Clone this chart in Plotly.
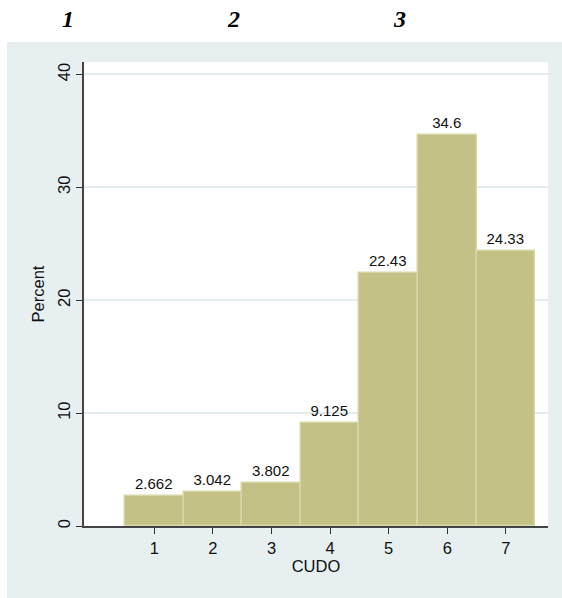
import plotly.graph_objects as go

categories = [1, 2, 3, 4, 5, 6, 7]
percents = [2.662, 3.042, 3.802, 9.125, 22.43, 34.6, 24.33]
bar_labels = ["2.662", "3.042", "3.802", "9.125", "22.43", "34.6", "24.33"]
y_ticks = [0, 10, 20, 30, 40]
panel_numbers = ["1", "2", "3"]

FONT = "Arial, Liberation Sans, Helvetica, sans-serif"
PANEL = "#e7eff0"

fig = go.Figure()
fig.add_trace(go.Bar(
    x=categories, y=percents, width=1,
    marker=dict(color="#c4c186", line=dict(color="#d8d6a6", width=1.5)),
    text=bar_labels, textposition="outside", cliponaxis=False,
    textfont=dict(family=FONT, size=15, color="#111"),
))

W, H = 562, 598
L, R, T, B = 84, 14, 62, 72
pw, ph = W - L - R, H - T - B

def px_x(p):
    return (p - L) / pw

def px_y(p):
    return (H - B - p) / ph

shapes = [
    dict(type="rect", xref="paper", yref="paper", layer="below",
         x0=px_x(-5), x1=px_x(W + 5), y0=px_y(42), y1=px_y(-5),
         fillcolor="white", line=dict(width=0)),
    dict(type="rect", xref="paper", yref="paper", layer="below",
         x0=px_x(-5), x1=px_x(7), y0=px_y(H + 5), y1=px_y(-5),
         fillcolor="white", line=dict(width=0)),
]

annotations = []
for lab, xp in zip(panel_numbers, [68, 233, 399]):
    annotations.append(dict(
        text="<b><i>" + lab + "</i></b>", xref="paper", yref="paper",
        x=px_x(xp), y=px_y(19),
        showarrow=False, xanchor="center", yanchor="middle",
        font=dict(family="Liberation Serif, Times New Roman, serif", size=24, color="black"),
    ))

fig.update_layout(
    width=W, height=H,
    margin=dict(l=L, r=R, t=T, b=B, pad=0),
    paper_bgcolor=PANEL, plot_bgcolor="white",
    font=dict(family=FONT, size=16.5, color="#111"),
    showlegend=False, bargap=0,
    shapes=shapes, annotations=annotations,
    xaxis=dict(
        range=[-0.2, 7.72], tickvals=categories, ticktext=[str(c) for c in categories],
        ticks="outside", ticklen=6, tickcolor="#333", showline=True, linecolor="#444",
        linewidth=1.5, showgrid=False, zeroline=False,
        title=dict(text="CUDO", standoff=0, font=dict(size=16.5)),
        tickfont=dict(size=16.5),
    ),
    yaxis=dict(
        range=[0, 41.1], tickvals=y_ticks, tickangle=-90,
        ticks="outside", ticklen=6, tickcolor="#333", showline=True, linecolor="#444",
        linewidth=1.5, showgrid=True, gridcolor="#e3ecef", gridwidth=1.5, zeroline=False,
        title=dict(text="Percent", standoff=6, font=dict(size=16.5)),
        tickfont=dict(size=16.5),
    ),
)

fig.write_html(
    "out.html",
    config={"displayModeBar": False, "responsive": False},
    post_script=(
        "document.body.style.margin='0';"
        "document.body.style.overflow='hidden';"
        "document.documentElement.style.overflow='hidden';"
        "document.body.style.background='" + PANEL + "';"
        "document.documentElement.style.background='" + PANEL + "';"
    ),
)
